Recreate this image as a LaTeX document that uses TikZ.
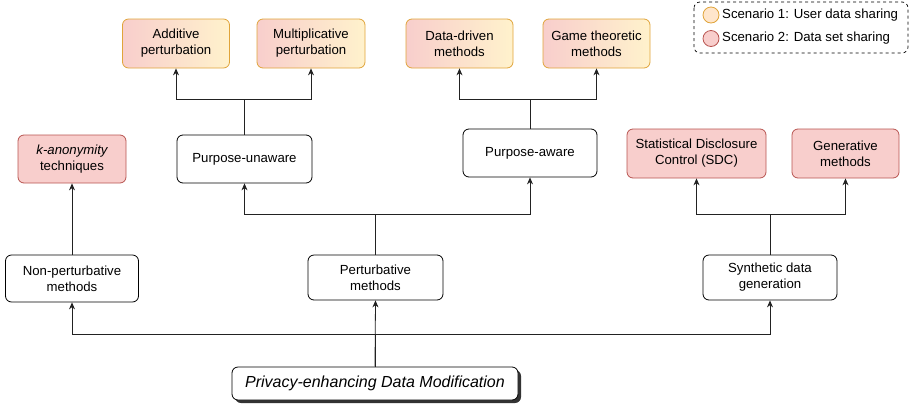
\documentclass[tikz,border=0pt]{standalone}
\usepackage{fontspec}
\setmainfont{Liberation Sans}
\usepackage{tikz}
\usetikzlibrary{arrows.meta, positioning, shadows}
\definecolor{redfill}{HTML}{F8CECC}
\definecolor{redline}{HTML}{B85450}
\definecolor{yelfill}{HTML}{FFF2CC}
\definecolor{orafill}{HTML}{FFE6CC}
\definecolor{oraline}{HTML}{E0A43A}
\definecolor{wire}{HTML}{222222}
\tikzset{
x=1pt, y=-1pt, % one unit is one pixel of the layout, y runs downwards
>={Stealth[length=7pt,width=6pt]}, % small filled arrow heads
every node/.style={font=\fontsize{13.2}{16}\selectfont, align=center, inner sep=2pt},
plain/.style={draw, rounded corners=6pt, fill=white, thick}, % white method boxes
userbox/.style={draw=oraline, rounded corners=6pt, left color=redfill, right color=yelfill, thick}, % scenario 1 and 2
setbox/.style={draw=redline, rounded corners=6pt, fill=redfill, thick}, % scenario 2 only
link/.style={->, draw=wire, line width=0.8pt}, % connectors
}

\begin{document}
\begin{tikzpicture}
\useasboundingbox (0,0) rectangle (911,408);
% legend
\draw[dashed, rounded corners=6pt, line width=0.7pt] (694,2) rectangle (908,53);
\node[circle, draw=oraline, fill=orafill, thick, minimum size=16pt, inner sep=0pt] (leg1) at (711,15) {};
\node[circle, draw=redline, fill=redfill, thick, minimum size=16pt, inner sep=0pt] (leg2) at (711,38.5) {};
\node[anchor=west, inner sep=0pt] at (722,15) {Scenario 1: User data sharing};
\node[anchor=west, inner sep=0pt] at (722,38.5) {Scenario 2: Data set sharing};
% top row
\node[userbox, minimum width=107pt, minimum height=49pt] (add) at (176,43.5) {Additive\\perturbation};
\node[userbox, minimum width=108pt, minimum height=49pt] (mult) at (311,43.5) {Multiplicative\\perturbation};
\node[userbox, minimum width=107pt, minimum height=49pt] (data) at (459.5,43.5) {Data-driven\\methods};
\node[userbox, minimum width=107pt, minimum height=49pt] (game) at (596.5,43.5) {Game theoretic\\methods};
% middle row
\node[setbox, minimum width=108pt, minimum height=48pt] (kanon) at (72,159) {\itshape k-anonymity\\techniques};
\node[plain, minimum width=135pt, minimum height=48pt] (unaware) at (244.5,159) {Purpose-unaware};
\node[plain, minimum width=134pt, minimum height=48pt] (aware) at (530,153) {Purpose-aware};
\node[setbox, minimum width=139pt, minimum height=49pt] (sdc) at (696.5,153.5) {Statistical Disclosure\\Control (SDC)};
\node[setbox, minimum width=107pt, minimum height=49pt] (gen) at (845.5,153.5) {Generative\\methods};
% lower row
\node[plain, minimum width=133pt, minimum height=47pt] (nonpert) at (72,278.5) {Non-perturbative\\methods};
\node[plain, minimum width=135pt, minimum height=45pt] (pert) at (375.5,277.5) {Perturbative\\methods};
\node[plain, minimum width=134pt, minimum height=45pt] (synth) at (770,277.5) {Synthetic data\\generation};
% root
\node[plain, minimum width=286pt, minimum height=33pt, font=\fontsize{16}{19}\selectfont\itshape,
  drop shadow={shadow xshift=3pt, shadow yshift=-3pt, fill=black!80, opacity=1}] (root) at (375,383.5) {Privacy-enhancing Data Modification};
% connectors
\draw[link] (root.north) -- ++(0,-32) -| (nonpert.south);
\draw[link] (root.north) -- ++(0,-32) -| (synth.south);
\draw[link] (root.north) -- (pert.south);
\draw[link] (nonpert.north) -- (kanon.south);
\draw[link] (pert.north) -- ++(0,-40) -| (unaware.south);
\draw[link] (pert.north) -- ++(0,-40) -| (aware.south);
\draw[link] (synth.north) -- ++(0,-40) -| (sdc.south);
\draw[link] (synth.north) -- ++(0,-40) -| (gen.south);
\draw[link] (unaware.north) -- ++(0,-35) -| (add.south);
\draw[link] (unaware.north) -- ++(0,-35) -| (mult.south);
\draw[link] (aware.north) -- ++(0,-29) -| (data.south);
\draw[link] (aware.north) -- ++(0,-29) -| (game.south);
\end{tikzpicture}
\end{document}
